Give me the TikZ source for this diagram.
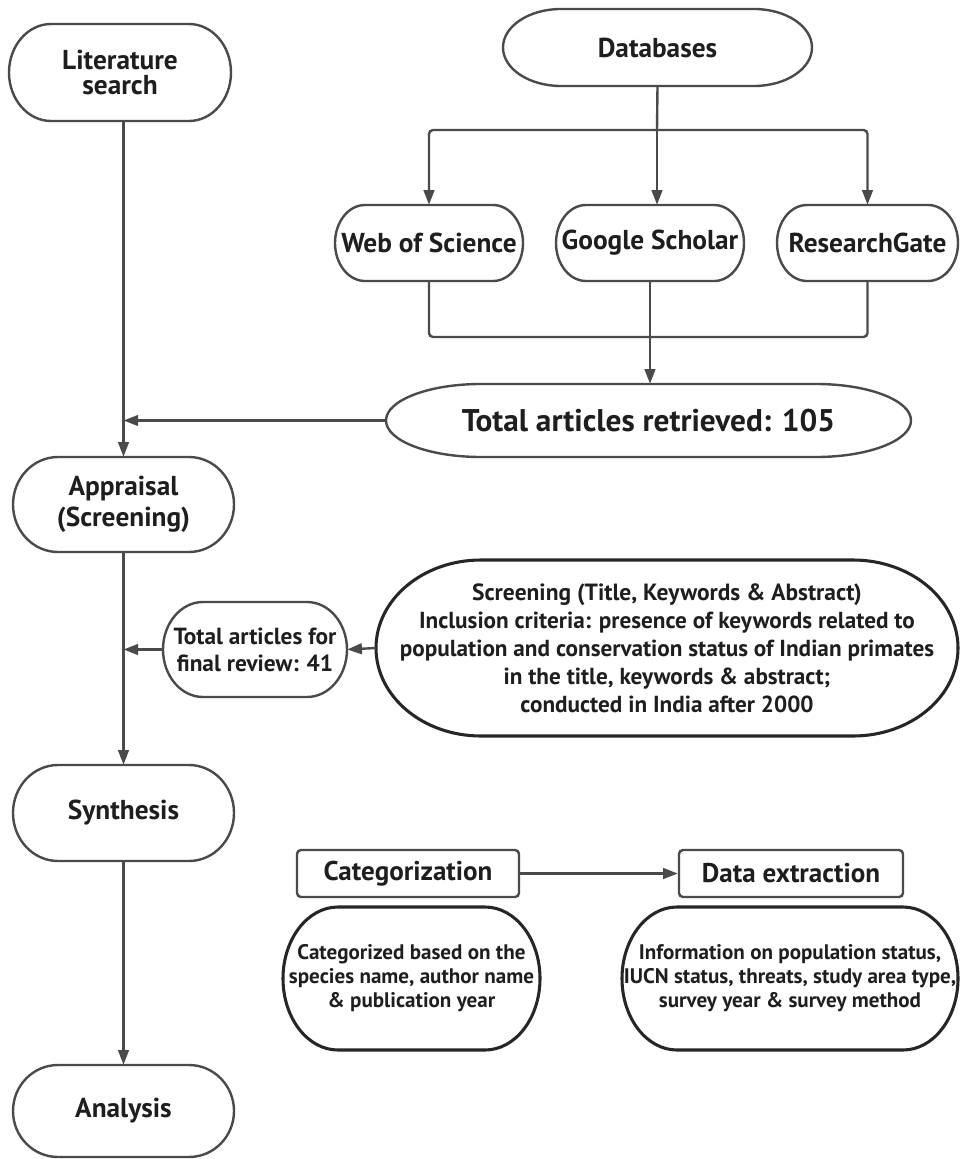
\documentclass[tikz,border=0pt]{standalone}
\usepackage{fontspec}
\setmainfont{PT Sans}
\usetikzlibrary{arrows.meta,calc}
\definecolor{ln}{HTML}{4A4A4A}
\definecolor{tx}{HTML}{1E1E1E}
\tikzset{
  conn/.style={draw=ln, line width=1.8pt, -{Triangle[length=11pt,width=8pt]}},
  plain/.style={draw=ln, line width=1.8pt},
  outl/.style={draw=ln, line width=1.8pt},
  outk/.style={draw=black!85, line width=2.3pt},
  lbl/.style={text=tx, align=center, inner sep=0pt},
  hd/.style={font=\bfseries\fontsize{20.5}{20.5}\selectfont},
  body/.style={font=\bfseries\fontsize{15.8}{18}\selectfont},
}
% #1 name, #2 x1, #3 y1, #4 x2, #5 y2, #6 rx, #7 outline style, #8 text style, #9 text
\newcommand\stad[9]{%
  \pgfmathsetmacro\sA{#2+#6}\pgfmathsetmacro\sB{#4-#6}%
  \pgfmathsetmacro\sC{(#3+#5)/2}\pgfmathsetmacro\sR{(#5-#3)/2}%
  \pgfmathsetmacro\kx{0.5523*#6}\pgfmathsetmacro\ky{0.5523*\sR}%
  \pgfmathsetmacro\sW{(#4-#2)*0.75}\pgfmathsetmacro\sH{(#5-#3)*0.75}%
  \pgfmathsetmacro\sX{(#2+#4)/2}%
  \draw[#7] (\sA,#3) -- (\sB,#3) .. controls (\sB+\kx,#3) and (#4,\sC-\ky) .. (#4,\sC)
    .. controls (#4,\sC+\ky) and (\sB+\kx,#5) .. (\sB,#5) -- (\sA,#5)
    .. controls (\sA-\kx,#5) and (#2,\sC+\ky) .. (#2,\sC)
    .. controls (#2,\sC-\ky) and (\sA-\kx,#3) .. cycle;
  \node[lbl, minimum width=\sW pt, minimum height=\sH pt, #8] (#1) at (\sX,\sC) {#9};%
}
\begin{document}
\begin{tikzpicture}[x=0.75pt, y=-0.75pt]
\useasboundingbox (0,0) rectangle (960,1159);
\fill[white] (0,0) rectangle (960,1159);

\stad{lit}{9}{24}{231}{121}{42}{outl}{font=\bfseries\fontsize{20.5}{19}\selectfont}{Literature\\search}
\stad{db}{503}{9}{812}{86}{58}{outl}{hd}{Databases}
\stad{wos}{335}{205}{523}{281}{30}{outl}{hd}{Web of Science}
\stad{gs}{556}{205}{744}{281}{30}{outl}{hd}{Google Scholar}
\stad{rg}{777}{205}{958}{281}{30}{outl}{hd}{ResearchGate}
\stad{tot}{386}{384}{911}{457}{95}{outl}{font=\bfseries\fontsize{23.5}{23.5}\selectfont}{Total articles retrieved: 105}
\stad{app}{13}{457}{234}{552}{45}{outl}{font=\bfseries\fontsize{20.5}{23}\selectfont}{Appraisal\\(Screening)}
\stad{fin}{163}{602}{347}{697}{40}{outl}{font=\bfseries\fontsize{17.5}{20.25}\selectfont}{Total articles for\\final review: 41}
\stad{scr}{376}{560}{958}{736}{105}{outk}{font=\bfseries\fontsize{17.4}{21}\selectfont}{{\fontsize{17.6}{21}\selectfont Screening (Title, Keywords \& Abstract)}\\Inclusion criteria: presence of keywords related to\\population and conservation status of Indian primates\\in the title, keywords \& abstract;\\conducted in India after 2000}
\stad{syn}{13}{765}{234}{861}{45}{outl}{hd}{Synthesis}
\stad{ana}{13}{1065}{234}{1157}{45}{outl}{hd}{Analysis}
\stad{catd}{283}{907}{540}{1050}{55}{outk}{body}{Categorized based on the\\species name, author name\\\& publication year}
\stad{info}{622}{907}{958}{1050}{55}{outk}{body}{Information on population status,\\IUCN status, threats, study area type,\\survey year \& survey method}

\node[lbl, draw=ln, line width=1.8pt, rounded corners=3pt, minimum width=166.5pt, minimum height=35.25pt, font=\bfseries\fontsize{20.3}{20.3}\selectfont] (cat) at (408,873.5) {Categorization};
\node[lbl, draw=ln, line width=1.8pt, rounded corners=3pt, minimum width=168pt, minimum height=35.25pt, font=\bfseries\fontsize{20.3}{20.3}\selectfont] (dex) at (791,873.5) {Data extraction};

% connectors
\coordinate (br) at (657,130);
\coordinate (jn) at (650,337);
\draw[plain] (db.south) -- (br);
\draw[conn] (br) -- (br |- gs.north);
\draw[conn, rounded corners=3pt] (br) -| (wos.north);
\draw[conn, rounded corners=3pt] (br) -| (rg.north);
\draw[plain, rounded corners=3pt] (wos.south) |- (jn);
\draw[plain, rounded corners=3pt] (rg.south) |- (jn);
\draw[conn] (gs.south) -- (gs.south |- tot.north);

\draw[conn] (app.north |- lit.south) -- (app.north);
\draw[conn] (tot.west) -- (tot.west -| app.north);
\draw[conn] (app.south) -- (syn.north);
\draw[conn] (fin.west) -- (fin.west -| app.south);
\draw[conn] (scr.west) -- (fin.east);
\draw[conn] (syn.south) -- (ana.north);
\draw[conn] (cat.east) -- (dex.west);
\end{tikzpicture}
\end{document}
